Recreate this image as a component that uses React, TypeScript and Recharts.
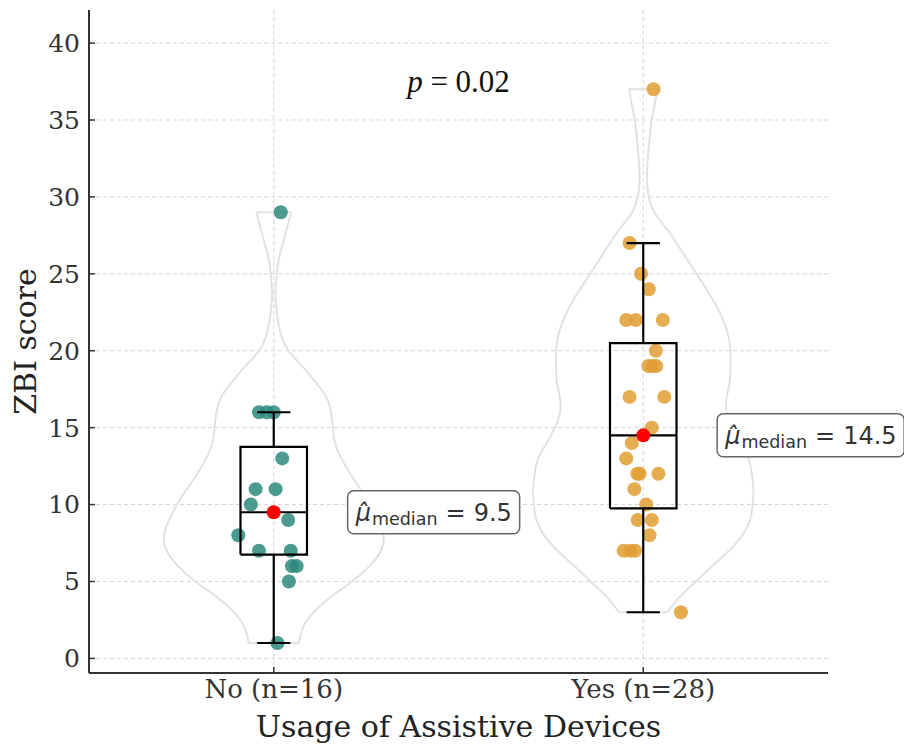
import { ComposedChart, Line, Scatter, XAxis, YAxis, CartesianGrid } from 'recharts';

// groups on the x axis (positions 0 and 1)
const GROUPS = ['No (n=16)', 'Yes (n=28)'];
const POSITIONS = [0, 1];

// ZBI scores and the horizontal jitter
const NO_SCORES = [29, 16, 16, 16, 13, 11, 11, 10, 9, 8, 7, 7, 6, 6, 5, 1];
const NO_JITTER = [0.019, -0.04, -0.019, 0.0, 0.023, -0.049, 0.005, -0.062, 0.039, -0.096, -0.04, 0.046, 0.049, 0.062, 0.041, 0.01];
const YES_SCORES = [37, 27, 25, 24, 22, 22, 22, 20, 19, 19, 19, 17, 17, 15, 14, 13, 12, 12, 12, 11, 10, 9, 9, 8, 7, 7, 7, 3];
const YES_JITTER = [0.028, -0.037, -0.006, 0.015, -0.046, -0.02, 0.053, 0.034, 0.014, 0.025, 0.035, -0.037, 0.057, 0.023, -0.031, -0.046, -0.01, -0.016, 0.041, -0.024, 0.008, -0.015, 0.023, 0.017, -0.053, -0.035, -0.022, 0.102];

// box plot stats
const MEDIANS = [9.5, 14.5];
const Q1 = [6.75, 9.75];
const Q3 = [13.75, 20.5];
const WHISKER_LOW = [1, 3];
const WHISKER_HIGH = [16, 27];

// violin outline: half width (x units) at each score level
const NO_VIOLIN_LEVELS = [1, 2, 3, 4, 5, 6, 7, 8, 9, 10, 11, 12, 13, 14, 15, 16, 17, 18, 19, 20, 21, 22, 23, 24, 25, 26, 27, 28, 29];
const NO_VIOLIN_HALF = [0.068, 0.079, 0.108, 0.155, 0.212, 0.259, 0.29, 0.297, 0.283, 0.262, 0.235, 0.207, 0.183, 0.166, 0.16, 0.155, 0.142, 0.112, 0.077, 0.04, 0.02, 0.011, 0.006, 0.005, 0.008, 0.014, 0.025, 0.036, 0.047];
const YES_VIOLIN_LEVELS = [3, 4, 5, 6, 7, 8, 9, 10, 11, 12, 13, 14, 15, 16, 17, 18, 19, 20, 21, 22, 23, 24, 25, 26, 27, 28, 29, 30, 31, 32, 33, 34, 35, 36, 37];
const YES_VIOLIN_HALF = [0.065, 0.099, 0.142, 0.187, 0.232, 0.268, 0.289, 0.296, 0.298, 0.294, 0.284, 0.261, 0.239, 0.225, 0.226, 0.234, 0.236, 0.236, 0.23, 0.216, 0.196, 0.171, 0.144, 0.117, 0.09, 0.061, 0.03, 0.015, 0.01, 0.011, 0.014, 0.018, 0.023, 0.031, 0.038];

const Y_TICKS = [0, 5, 10, 15, 20, 25, 30, 35, 40];
const P_VALUE = '0.02';

const DOT_COLORS = ['#2b8a7e', '#e29e34'];
const BOX_HALF = 0.09;
const CAP_HALF = 0.045;
const LABEL_W = [172, 187];

const serif = 'DejaVu Serif';

type Pt = { x: number; y: number };

function violinParts(pos: number, levels: number[], half: number[]) {
  const n = levels.length;
  const left = levels.map((v, i) => ({ x: pos - half[i], y: v }));
  const right = levels.map((v, i) => ({ x: pos + half[i], y: v }));
  const bottom = [left[0], right[0]];
  const top = [left[n - 1], right[n - 1]];
  return { left, right, bottom, top };
}

function boxParts(i: number): Pt[][] {
  const p = POSITIONS[i];
  const l = p - BOX_HALF;
  const r = p + BOX_HALF;
  return [
    [{ x: l, y: Q1[i] }, { x: r, y: Q1[i] }, { x: r, y: Q3[i] }, { x: l, y: Q3[i] }, { x: l, y: Q1[i] }],
    [{ x: l, y: MEDIANS[i] }, { x: r, y: MEDIANS[i] }],
    [{ x: p, y: Q3[i] }, { x: p, y: WHISKER_HIGH[i] }],
    [{ x: p, y: Q1[i] }, { x: p, y: WHISKER_LOW[i] }],
    [{ x: p - CAP_HALF, y: WHISKER_HIGH[i] }, { x: p + CAP_HALF, y: WHISKER_HIGH[i] }],
    [{ x: p - CAP_HALF, y: WHISKER_LOW[i] }, { x: p + CAP_HALF, y: WHISKER_LOW[i] }],
  ];
}

const violins = [
  violinParts(POSITIONS[0], NO_VIOLIN_LEVELS, NO_VIOLIN_HALF),
  violinParts(POSITIONS[1], YES_VIOLIN_LEVELS, YES_VIOLIN_HALF),
];

const pointSets = [
  NO_SCORES.map((s, i) => ({ x: POSITIONS[0] + NO_JITTER[i], y: s })),
  YES_SCORES.map((s, i) => ({ x: POSITIONS[1] + YES_JITTER[i], y: s })),
];

const medianDots = MEDIANS.map((m, i) => ({ x: POSITIONS[i], y: m }));
const medianLabels = MEDIANS.map((m, i) => ({ x: POSITIONS[i] + 0.2, y: m, value: String(m), idx: i }));
const pLabel = [{ x: 0.5, y: 37.5 }];

const MedianLabel = (props: any) => {
  const { cx, cy, payload } = props;
  const w = LABEL_W[payload.idx];
  return (
    <g>
      <rect x={cx} y={cy - 21.5} width={w} height={43} rx={6} ry={6} fill="#fff" stroke="#666" strokeWidth={1.5} />
      <text x={cx + 8} y={cy + 8.5} fontFamily="DejaVu Sans" fontSize={24} fill="#333">
        <tspan fontStyle="italic">{'\u03bc\u0302'}</tspan>
        <tspan fontSize={17.5} dy={4} dx={1}>median</tspan>
        <tspan dy={-4} dx={8}>=</tspan>
        <tspan dx={8}>{payload.value}</tspan>
      </text>
    </g>
  );
};

const PLabel = (props: any) => {
  const { cx, cy } = props;
  return (
    <text x={cx} y={cy + 10} textAnchor="middle" fontFamily="Liberation Serif" fontSize={31} fill="#111">
      <tspan fontStyle="italic">p</tspan>
      <tspan>{' = ' + P_VALUE}</tspan>
    </text>
  );
};

const lineProps = {
  dataKey: 'y',
  dot: false,
  activeDot: false,
  isAnimationActive: false,
  legendType: 'none' as const,
};

export default function App() {
  return (
    <div style={{ position: 'absolute', left: 0, top: 0, background: '#fff' }}>
      <ComposedChart width={904} height={747} margin={{ top: 10, right: 76, bottom: 0, left: 0 }}>
        <CartesianGrid stroke="#d6d6d6" strokeDasharray="4 3" strokeWidth={1} syncWithTicks />
        <XAxis
          type="number"
          dataKey="x"
          domain={[-0.5, 1.5]}
          ticks={POSITIONS}
          tickFormatter={(v: number) => GROUPS[POSITIONS.indexOf(v)] ?? ''}
          height={74}
          axisLine={{ stroke: '#333', strokeWidth: 2 }}
          tickLine={{ stroke: '#333', strokeWidth: 1.5 }}
          tickSize={-6}
          tickMargin={13}
          tick={{ fill: '#333', fontSize: 26, fontFamily: serif }}
          label={{ value: 'Usage of Assistive Devices', position: 'insideBottom', offset: 10, style: { fill: '#222', fontSize: 30, fontFamily: serif } }}
        />
        <YAxis
          type="number"
          dataKey="y"
          domain={[-0.95, 42.15]}
          ticks={Y_TICKS}
          width={89}
          axisLine={{ stroke: '#333', strokeWidth: 2 }}
          tickLine={{ stroke: '#333', strokeWidth: 1.5 }}
          tickSize={-6}
          tickMargin={15}
          tick={{ fill: '#333', fontSize: 25, fontFamily: serif }}
          label={{ value: 'ZBI score', angle: -90, position: 'insideLeft', offset: 25, style: { fill: '#222', fontSize: 30, fontFamily: serif, textAnchor: 'middle' } }}
        />

        {violins.map((v, i) =>
          (['left', 'right', 'bottom', 'top'] as const).map((k) => (
            <Line
              key={`violin-${i}-${k}`}
              {...lineProps}
              data={v[k]}
              type={k === 'left' || k === 'right' ? 'natural' : 'linear'}
              stroke="#e2e2e2"
              strokeWidth={2}
              zIndex={100}
            />
          ))
        )}

        {pointSets.map((pts, i) => (
          <Scatter
            key={`pts-${i}`}
            data={pts}
            isAnimationActive={false}
            legendType="none"
            zIndex={200}
            shape={(p: any) => <circle cx={p.cx} cy={p.cy} r={7} fill={DOT_COLORS[i]} fillOpacity={0.85} />}
          />
        ))}

        {POSITIONS.map((_, i) =>
          boxParts(i).map((seg, j) => (
            <Line key={`box-${i}-${j}`} {...lineProps} data={seg} type="linear" stroke="#000" strokeWidth={2.2} zIndex={300} />
          ))
        )}

        <Scatter
          data={medianDots}
          isAnimationActive={false}
          legendType="none"
          zIndex={400}
          shape={(p: any) => <circle cx={p.cx} cy={p.cy} r={7} fill="#ff0000" />}
        />
        <Scatter data={medianLabels} isAnimationActive={false} legendType="none" zIndex={500} shape={MedianLabel} />
        <Scatter data={pLabel} isAnimationActive={false} legendType="none" zIndex={500} shape={PLabel} />
      </ComposedChart>
    </div>
  );
}
